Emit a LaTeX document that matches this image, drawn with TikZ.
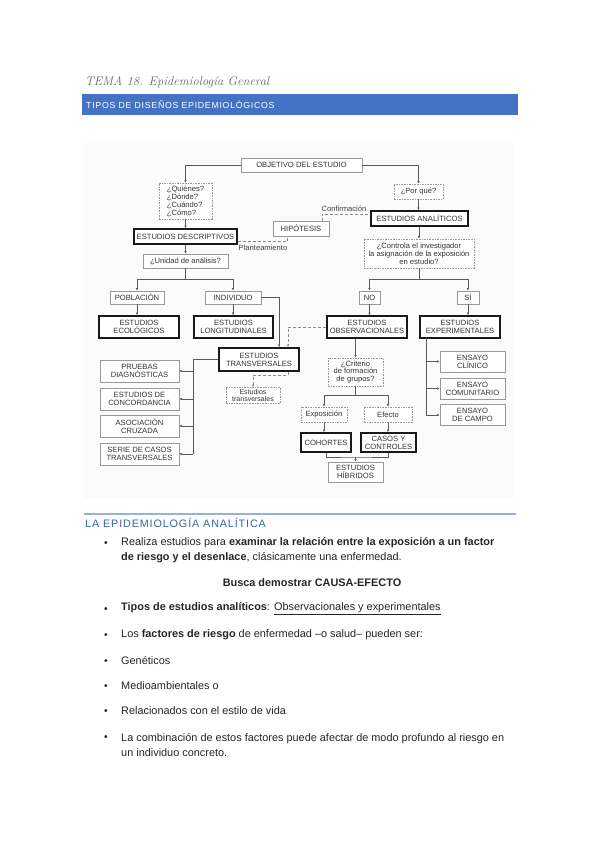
\documentclass[tikz,border=0pt]{standalone}
\usepackage{fontspec}
\setmainfont{Liberation Sans}
\newfontfamily\handfont{Latin Modern Roman}
\newfontfamily\capsfont[LetterSpace=8]{Liberation Sans}
\usetikzlibrary{arrows.meta, positioning}
\definecolor{barblue}{RGB}{68,114,196}
\definecolor{headblue}{RGB}{58,98,170}
\definecolor{ruleblue}{RGB}{149,179,215}

\begin{document}
\begin{tikzpicture}[x=1pt, y=-1pt, >={Latex[length=2.6pt, width=2.4pt]},
  font=\fontsize{7.6}{7.9}\selectfont,
  box/.style={draw=black!40, line width=0.6pt, fill=white, text=black!80, align=center, inner sep=1pt},
  key/.style={draw=black!90, line width=1.4pt, fill=white, text=black!80, align=center, inner sep=1pt},
  ask/.style={draw=black!40, dash pattern=on 1.6pt off 1pt, line width=0.5pt, fill=white, text=black!80, align=center, inner sep=1pt},
  link/.style={draw=black!65, line width=0.6pt},
  hint/.style={draw=black!45, line width=0.6pt, dash pattern=on 3pt off 2pt},
  item/.style={anchor=west, align=left, font=\fontsize{10.9}{14.5}\selectfont, text=black!85, inner sep=0pt},
  dot/.style={font=\fontsize{10.4}{12}\selectfont, text=black!85, inner sep=0pt}]

\useasboundingbox (0,0) rectangle (599,848);
\fill[white] (0,0) rectangle (599,848);

% --- page header ---
\node[anchor=west, font=\handfont\itshape\fontsize{12.5}{15}\selectfont, text=black!60, inner sep=0pt] (tema) at (85,82) {TEMA 18. Epidemiología General};
\node[fill=barblue, minimum width=436pt, minimum height=21pt, inner sep=0pt, anchor=north west] (bar) at (82,94) {};
\node[anchor=west, font=\capsfont\fontsize{8.8}{10}\selectfont, text=white, inner sep=0pt] (titulo) at (86,104.5) {TIPOS DE DISEÑOS EPIDEMIOLÓGICOS};

% --- flow chart (scanned figure) ---
\fill[black!1.5] (84,143) rectangle (514,498);

\node[box, minimum width=121pt, minimum height=14pt] (obj) at (301.5,165) {OBJETIVO DEL ESTUDIO};
\node[ask, minimum width=53pt, minimum height=36pt, align=left] (quien) at (185.5,201) {¿Quiénes?\\¿Dónde?\\¿Cuándo?\\¿Cómo?};
\node[ask, minimum width=49pt, minimum height=15pt] (porque) at (418.5,191.5) {¿Por qué?};
\node[key, minimum width=97pt, minimum height=15pt] (anal) at (419.5,218.5) {ESTUDIOS ANALÍTICOS};
\node[box, minimum width=56pt, minimum height=15pt] (hip) at (301,228.5) {HIPÓTESIS};
\node[key, minimum width=103pt, minimum height=15pt] (desc) at (185.5,236.5) {ESTUDIOS DESCRIPTIVOS};
\node[ask, minimum width=110pt, minimum height=29pt] (ctrl) at (419,253.5) {¿Controla el investigador\\la asignación de la exposición\\en estudio?};
\node[box, minimum width=85pt, minimum height=14pt] (unid) at (185.5,261) {¿Unidad de análisis?};
\node[text=black!75, inner sep=0pt] (conf) at (344,209) {Confirmación};
\node[text=black!75, inner sep=0pt] (plant) at (263,247.5) {Planteamiento};

% second level
\node[box, minimum width=54pt, minimum height=13pt] (pob) at (137,297.5) {POBLACIÓN};
\node[box, minimum width=56pt, minimum height=13pt] (indiv) at (233,297.5) {INDIVIDUO};
\node[box, minimum width=21pt, minimum height=13pt] (no) at (369.5,297.5) {NO};
\node[box, minimum width=22pt, minimum height=13pt] (si) at (468,297.5) {SÍ};
\node[key, minimum width=80pt, minimum height=22pt] (eco) at (139,327) {ESTUDIOS\\ECOLÓGICOS};
\node[key, minimum width=79pt, minimum height=22pt] (longi) at (233.5,327) {ESTUDIOS\\LONGITUDINALES};
\node[key, minimum width=80pt, minimum height=22pt] (obs) at (367,327) {ESTUDIOS\\OBSERVACIONALES};
\node[key, minimum width=80pt, minimum height=22pt] (exper) at (460,327) {ESTUDIOS\\EXPERIMENTALES};
\node[key, minimum width=80pt, minimum height=23pt] (trans) at (259,359.5) {ESTUDIOS\\TRANSVERSALES};
\node[ask, minimum width=54pt, minimum height=16pt, font=\fontsize{7}{7.2}\selectfont] (trsub) at (253,395.5) {Estudios\\transversales};
\node[ask, minimum width=55pt, minimum height=28pt] (crit) at (355.5,372) {¿Criterio\\de formación\\de grupos?};

% left column
\node[box, minimum width=79pt, minimum height=22pt] (prueb) at (139.5,371) {PRUEBAS\\DIAGNÓSTICAS};
\node[box, minimum width=79pt, minimum height=22pt] (conc) at (139.5,399) {ESTUDIOS DE\\CONCORDANCIA};
\node[box, minimum width=79pt, minimum height=22pt] (asoc) at (139.5,426) {ASOCIACIÓN\\CRUZADA};
\node[box, minimum width=79pt, minimum height=22pt] (serie) at (139.5,454) {SERIE DE CASOS\\TRANSVERSALES};

% observational branch
\node[ask, minimum width=46pt, minimum height=15pt] (expo) at (324,414.5) {Exposición};
\node[ask, minimum width=48pt, minimum height=15pt] (efec) at (388,414.5) {Efecto};
\node[key, minimum width=50pt, minimum height=19pt] (coh) at (326,442.5) {COHORTES};
\node[key, minimum width=55pt, minimum height=19pt] (casos) at (388.5,442.5) {CASOS Y\\CONTROLES};
\node[box, minimum width=55pt, minimum height=20pt] (hib) at (355.5,472) {ESTUDIOS\\HÍBRIDOS};

% experimental branch
\node[box, minimum width=65pt, minimum height=21pt] (clin) at (472.5,361.5) {ENSAYO\\CLÍNICO};
\node[box, minimum width=65pt, minimum height=21pt] (comun) at (472.5,388.5) {ENSAYO\\COMUNITARIO};
\node[box, minimum width=65pt, minimum height=21pt] (campo) at (472.5,415) {ENSAYO\\DE CAMPO};

% junctions
\coordinate (ujoin) at (185.5,279);
\coordinate (cjoin) at (419,279);
\coordinate (gjoin) at (355.5,395.5);
\coordinate (hjoin) at (355.5,457);
\coordinate (lbus) at (193,359.5);
\coordinate (rbus) at (426,338);
\coordinate (tbend) at (253,375);
\coordinate (plbend) at (287,241.5);
\coordinate (cfbend) at (322,214);

% connectors
\draw[link, ->] (obj.west) -| (quien.north);
\draw[link, ->] (obj.east) -| (porque.north);
\draw[link, ->] (quien.south) -- (desc.north);
\draw[link, ->] (porque.south) -- (porque.south |- anal.north);
\draw[link, ->] (anal.south -| ctrl.north) -- (ctrl.north);
\draw[link, ->] (desc.south) -- (unid.north);
\draw[link] (unid.south) -- (ujoin);
\draw[link, ->] (ujoin) -| (pob.north);
\draw[link, ->] (ujoin) -| (indiv.north);
\draw[link] (ctrl.south) -- (cjoin);
\draw[link, ->] (cjoin) -| (no.north);
\draw[link, ->] (cjoin) -| (si.north);
\draw[link, ->] (pob.south) -- (pob.south |- eco.north);
\draw[link, ->] (indiv.south) -- (indiv.south |- longi.north);
\draw[link, ->] (no.south) -- (no.south |- obs.north);
\draw[link, ->] (si.south) -- (si.south |- exper.north);
\draw[link, ->] (indiv.east) -| ([xshift=20pt]trans.north);
\draw[hint, ->] (obs.west) -| ([xshift=29pt]trans.north);
\draw[hint, ->] ([xshift=29pt]trans.south) |- (tbend) -- (trsub.north);
\draw[link] (trans.west) -- (lbus) -- (lbus |- serie.east);
\foreach \n in {prueb, conc, asoc, serie}
  \draw[link, ->] (lbus |- \n.east) -- (\n.east);
\draw[link, ->] (crit.north |- obs.south) -- (crit.north);
\draw[link] (crit.south) -- (gjoin);
\draw[link, ->] (gjoin) -| (expo.north);
\draw[link, ->] (gjoin) -| (efec.north);
\draw[link, ->] (expo.south) -- (expo.south |- coh.north);
\draw[link, ->] (efec.south) -- (efec.south |- casos.north);
\draw[link] (coh.south) |- (hjoin) -| (casos.south);
\draw[link, ->] (hjoin) -- (hib.north);
\draw[link] (rbus) -- (rbus |- campo.west);
\foreach \n in {clin, comun, campo}
  \draw[link, ->] (rbus |- \n.west) -- (\n.west);

% hypothesis links
\draw[hint] (desc.east |- plbend) -- (plbend) -- (plbend |- hip.south);
\draw[hint] (cfbend |- hip.north) -- (cfbend) -- (cfbend -| anal.west);

% --- text section ---
\draw[ruleblue, line width=1.5pt] (84,514) -- (516,514);
\node[anchor=west, font=\capsfont\fontsize{10.8}{12}\selectfont, text=headblue, inner sep=0pt] (seccion) at (85,523) {LA EPIDEMIOLOGÍA ANALÍTICA};

\node[dot] (d1) at (106,544) {•};
\node[item] (t1) at (121,550) {Realiza estudios para \textbf{examinar la relación entre la exposición a un factor}\\\textbf{de riesgo y el desenlace}, clásicamente una enfermedad.};
\node[font=\bfseries\fontsize{10.9}{12}\selectfont, text=black!85, inner sep=0pt] (causa) at (312,583) {Busca demostrar CAUSA-EFECTO};
\node[dot] (d2) at (106,610) {•};
\node[item] (t2) at (121,609) {\textbf{Tipos de estudios analíticos}: \underline{Observacionales y experimentales}};
\node[dot] (d3) at (106,636) {•};
\node[item] (t3) at (121,635) {Los \textbf{factores de riesgo} de enfermedad –o salud– pueden ser:};
\node[dot] (d4) at (106,662) {•};
\node[item] (t4) at (121,661) {Genéticos};
\node[dot] (d5) at (106,687) {•};
\node[item] (t5) at (121,686) {Medioambientales o};
\node[dot] (d6) at (106,712) {•};
\node[item] (t6) at (121,711) {Relacionados con el estilo de vida};
\node[dot] (d7) at (106,738) {•};
\node[item] (t7) at (121,745) {La combinación de estos factores puede afectar de modo profundo al riesgo en\\un individuo concreto.};

\end{tikzpicture}
\end{document}
